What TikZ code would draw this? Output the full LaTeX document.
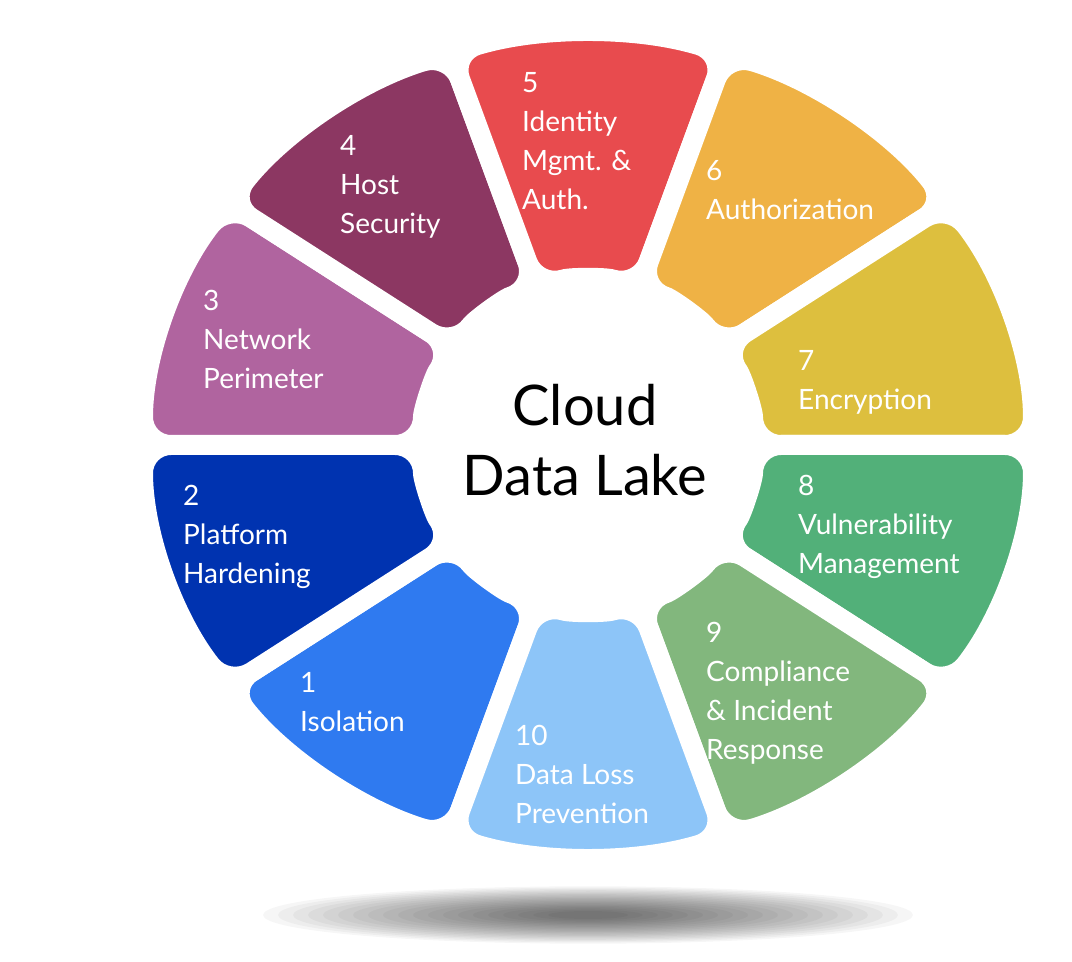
\documentclass[tikz,border=0pt]{standalone}
\usepackage{fontspec}
\setmainfont{Lato}
\definecolor{c1}{HTML}{2F7AF0}
\definecolor{c2}{HTML}{0033B0}
\definecolor{c3}{HTML}{B0649F}
\definecolor{c4}{HTML}{8C3762}
\definecolor{c5}{HTML}{E84B4E}
\definecolor{c6}{HTML}{EFB245}
\definecolor{c7}{HTML}{DDBF3E}
\definecolor{c8}{HTML}{52B079}
\definecolor{c9}{HTML}{82B77D}
\definecolor{c10}{HTML}{8DC5F8}
\tikzset{
  seg/.style={draw=white,line width=20pt,line join=round,rounded corners=28pt},
  lbl/.style={anchor=north west,inner sep=0pt,align=left,text=white,font=\fontsize{28}{39}\selectfont},
}
\begin{document}
\begin{tikzpicture}[x=1pt,y=1pt]
\useasboundingbox (0,0) rectangle (1072,962);
\fill[white] (0,0) rectangle (1072,962);
\foreach \i in {1,...,20}{
  \fill[black,opacity=0.035] (588,47) ellipse [x radius={340-15*\i},y radius={30-1.3*\i}];
}
\def\cx{588}\def\cy{517}
\foreach \c/\col in {234/c1,198/c2,162/c3,126/c4,90/c5,54/c6,18/c7,342/c8,306/c9,270/c10}{
  \pgfmathsetmacro\ai{\c-18}\pgfmathsetmacro\aii{\c+18}
  \path[fill=\col,seg] ({\cx+165*cos(\ai)},{\cy+165*sin(\ai)}) arc[start angle=\ai,end angle=\aii,radius=165]
    -- ({\cx+445*cos(\aii)},{\cy+412*sin(\aii)}) arc[start angle=\aii,end angle=\ai,x radius=445,y radius=412] -- cycle;
}
\node[circle,fill=white,minimum size=345pt,inner sep=0pt] (ctr) at (\cx,\cy) {};
\node[align=center,font=\fontsize{56}{70}\selectfont] (ctrt) at (585,522) {Cloud\\Data Lake};
\def\yy#1{962-#1}
\node[lbl] (l5) at (522,{\yy{72}}) {5\\Identity\\Mgmt. \&\\Auth.};
\node[lbl] (l4) at (340,{\yy{135}}) {4\\Host\\Security};
\node[lbl] (l3) at (203,{\yy{290}}) {3\\Network\\Perimeter};
\node[lbl] (l2) at (183,{\yy{485}}) {2\\Platform\\Hardening};
\node[lbl] (l1) at (300,{\yy{672}}) {1\\Isolation};
\node[lbl] (l10) at (515,{\yy{725}}) {10\\Data Loss\\Prevention};
\node[lbl] (l9) at (706,{\yy{622}}) {9\\Compliance\\\& Incident\\Response};
\node[lbl] (l8) at (798,{\yy{475}}) {8\\Vulnerability\\Management};
\node[lbl] (l7) at (798,{\yy{350}}) {7\\Encryption};
\node[lbl] (l6) at (706,{\yy{160}}) {6\\Authorization};
\end{tikzpicture}
\end{document}
